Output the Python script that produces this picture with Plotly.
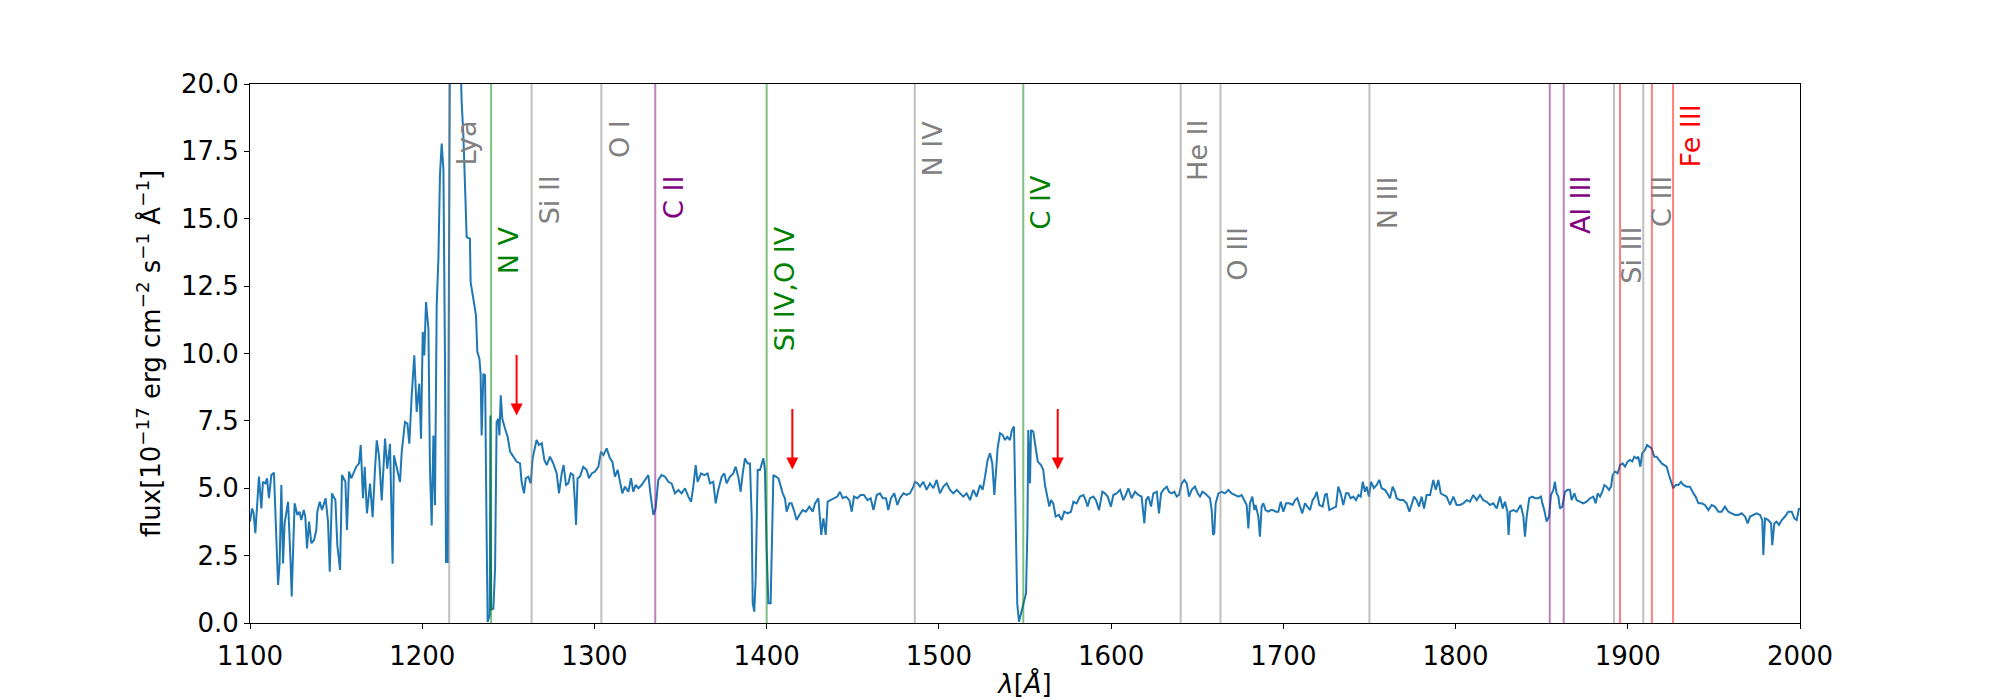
import plotly.graph_objects as go

# ---------------- data ----------------
wave = [
    1100.0, 1101.2, 1102.1, 1103.1, 1105.2, 1106.6, 1107.5, 1108.9, 1109.9, 1111.0,
    1112.4, 1113.9, 1116.3, 1117.2, 1118.2, 1119.2, 1120.1, 1122.1, 1123.6, 1124.2,
    1125.9, 1127.5, 1128.8, 1129.8, 1131.2, 1132.1, 1133.1, 1134.3, 1135.6, 1137.2,
    1138.5, 1139.1, 1140.5, 1141.8, 1143.9, 1145.3, 1146.3, 1147.6, 1149.6, 1150.7,
    1152.3, 1153.4, 1155.4, 1156.3, 1157.5, 1158.8, 1161.7, 1163.3, 1164.3, 1165.6,
    1166.6, 1167.9,
    1169.7, 1171.2, 1172.6, 1173.6, 1174.9, 1176.5, 1178.4, 1179.7, 1181.3, 1182.8,
    1183.6, 1185.2, 1187.1, 1188.1, 1190.0, 1191.4, 1192.5, 1193.9, 1195.4, 1196.8,
    1198.3, 1199.3, 1200.3, 1201.2, 1202.2, 1203.6, 1204.5, 1205.5, 1206.5, 1207.4,
    1208.4, 1209.4, 1210.3, 1211.3, 1212.3, 1213.2, 1213.8, 1214.8, 1215.4, 1216.2,
    1218.0, 1220.0, 1222.0, 1222.9, 1223.9, 1224.8, 1225.8, 1227.7, 1228.1, 1229.7,
    1231.2, 1232.0, 1233.2, 1233.9, 1234.5, 1235.5, 1236.5, 1237.4, 1238.0, 1239.2,
    1239.6, 1240.0, 1241.3, 1242.3, 1243.2, 1244.2, 1244.8, 1245.6, 1246.5, 1248.1,
    1249.6, 1251.0, 1252.9, 1254.8, 1256.8, 1257.7, 1259.1, 1260.1, 1261.6, 1263.0,
    1264.1, 1265.1, 1266.4, 1267.8, 1269.4, 1270.9, 1272.3, 1274.2, 1276.1, 1278.1,
    1279.4, 1281.0, 1282.1, 1283.5, 1284.8, 1286.2, 1287.7, 1288.7, 1289.3, 1290.2,
    1291.6, 1293.5, 1295.5, 1296.8, 1298.4, 1300.3, 1302.3, 1303.8, 1305.2, 1307.1,
    1309.0, 1310.4, 1311.9, 1313.5, 1314.8, 1316.2, 1317.7, 1319.7, 1321.2, 1322.6,
    1323.9, 1325.5, 1327.4, 1329.3, 1331.3, 1332.6, 1334.2, 1335.5, 1337.1, 1339.0,
    1341.0, 1342.9, 1344.8, 1346.8, 1348.7, 1350.6, 1352.6, 1354.5, 1356.1, 1357.4,
    1358.8, 1359.9, 1361.9, 1363.8, 1365.7, 1367.1, 1369.0, 1370.4, 1371.9, 1373.9,
    1375.4, 1376.8, 1378.7, 1380.6, 1382.0, 1383.5, 1384.9, 1386.1, 1387.4, 1388.9,
    1390.3, 1391.3, 1391.9, 1392.8, 1393.6, 1394.8,
    1396.1, 1398.1, 1399.0, 1400.0, 1401.0, 1402.3, 1403.1, 1403.9, 1405.4, 1406.8,
    1407.7, 1409.3, 1410.6, 1411.6, 1413.2, 1414.5, 1416.1, 1417.4, 1419.0, 1420.9,
    1422.8, 1424.8, 1426.7, 1428.1, 1430.0, 1431.0, 1431.7, 1432.9, 1434.3, 1435.4,
    1437.4, 1439.1, 1441.0, 1442.6, 1444.1, 1446.1, 1448.0, 1449.4, 1450.7, 1452.6,
    1454.6, 1456.5, 1458.5, 1460.4, 1462.0, 1463.9, 1465.8, 1467.4, 1469.3, 1470.6,
    1472.2, 1474.1, 1475.9, 1477.4, 1479.4, 1481.3, 1483.2, 1485.2, 1486.1, 1487.7,
    1489.0, 1491.0, 1492.9, 1494.8, 1496.8, 1498.7, 1500.6, 1502.6, 1504.5, 1506.5,
    1508.4, 1510.3, 1512.3, 1514.2, 1516.1, 1518.1, 1520.0, 1521.9, 1523.9, 1525.4,
    1526.8, 1528.3, 1529.7, 1531.0, 1532.2, 1533.0, 1534.1, 1535.5, 1537.0, 1538.4,
    1539.7, 1541.3, 1542.4, 1543.6, 1544.5, 1545.5, 1546.5, 1547.7, 1549.0, 1550.6,
    1551.4, 1551.9, 1552.9, 1553.5, 1554.8, 1556.2, 1557.4, 1559.3, 1560.6, 1561.6,
    1563.0, 1564.1, 1565.1, 1566.4, 1567.8, 1569.7, 1571.3, 1572.8, 1574.8, 1576.7,
    1578.1, 1580.0, 1581.9, 1583.9, 1585.2, 1586.4, 1587.7, 1589.7, 1591.2, 1593.0,
    1594.9, 1596.4, 1598.0, 1599.9, 1601.3, 1603.2, 1605.2, 1607.1, 1608.5, 1610.0,
    1611.9, 1613.9, 1615.8, 1617.7, 1619.3, 1620.3, 1621.6, 1623.2, 1624.5, 1626.5,
    1627.8, 1629.0, 1630.3, 1632.3, 1633.6, 1635.2, 1636.7, 1638.1, 1639.4, 1641.0,
    1642.5, 1643.9, 1645.2, 1646.8, 1648.7, 1650.3, 1651.6, 1653.0, 1654.5, 1656.1,
    1657.4, 1658.4, 1659.2, 1659.9, 1660.7, 1662.3, 1664.2, 1666.1, 1668.1, 1670.0,
    1671.9, 1673.9, 1675.8, 1677.4, 1678.7, 1679.7, 1680.6, 1682.0, 1683.2, 1683.9,
    1685.5, 1686.4, 1687.4, 1688.4, 1689.7, 1691.3, 1692.8, 1693.8, 1695.7, 1697.1,
    1698.5, 1700.0, 1701.6, 1703.5, 1705.4, 1706.8, 1708.1, 1709.7, 1711.0, 1712.6,
    1713.9, 1715.5, 1717.0, 1718.4, 1719.4, 1720.9, 1722.8, 1724.2, 1725.2, 1726.7,
    1728.6, 1730.6, 1731.9, 1733.3, 1734.8, 1736.4, 1737.7, 1739.1, 1740.6, 1742.2,
    1743.6, 1744.9, 1746.1, 1747.4, 1748.4, 1749.7, 1750.9, 1752.6, 1754.2, 1755.7,
    1757.1, 1759.0, 1760.4, 1761.9, 1763.5, 1764.8, 1765.8, 1767.7, 1769.7, 1771.6,
    1773.2, 1774.5, 1775.9, 1777.4, 1778.8, 1780.3, 1781.7, 1783.2, 1785.2, 1787.1,
    1788.5, 1790.0, 1791.4, 1792.9, 1794.8, 1796.8, 1798.7, 1800.6, 1802.6, 1804.5,
    1806.5, 1808.4, 1810.3, 1812.3, 1814.2, 1816.1, 1818.1, 1820.0, 1821.9, 1823.9,
    1825.8, 1827.4, 1828.7, 1830.1, 1830.8, 1831.6, 1833.6, 1835.5, 1837.8, 1839.4,
    1840.3, 1841.3, 1842.8, 1844.6, 1846.1, 1848.1, 1849.6, 1850.4, 1851.5, 1852.9,
    1854.3, 1855.4, 1856.8, 1857.7, 1858.7, 1859.7, 1860.6, 1862.0, 1863.5, 1865.1,
    1866.4, 1867.4, 1869.0, 1870.3, 1872.3, 1874.2, 1876.1, 1878.1, 1880.0, 1881.4,
    1882.5, 1883.9, 1885.2, 1886.4, 1887.7, 1889.1, 1890.3, 1891.2, 1892.6, 1894.1,
    1895.5, 1897.0, 1898.4, 1899.9, 1901.3, 1902.6, 1903.8, 1905.2, 1906.1, 1907.3,
    1908.4, 1910.0, 1911.2, 1912.5, 1913.9, 1915.4, 1916.8, 1918.1, 1919.7, 1921.2,
    1922.6, 1923.9, 1925.1, 1926.4, 1927.8, 1929.4, 1930.9, 1932.3, 1934.2, 1936.1,
    1938.1, 1939.4, 1941.0, 1942.9, 1944.8, 1946.8, 1948.7, 1950.6, 1952.6, 1954.5,
    1956.4, 1958.4, 1960.3, 1962.3, 1964.2, 1966.1, 1968.1, 1969.6, 1971.0, 1972.9,
    1974.8, 1976.8, 1978.1, 1978.7, 1979.7, 1981.6, 1983.2, 1983.9, 1985.1, 1986.4,
    1987.8, 1989.4, 1991.3, 1993.2, 1995.2, 1996.7, 1998.1, 1999.4, 2000.0,
]

flux = [
    3.76, 4.25, 4.07, 3.33, 5.43, 4.25, 5.24, 5.18, 5.37, 4.63,
    5.49, 5.58, 1.41, 2.21, 5.12, 2.21, 3.70, 4.50, 2.21, 0.98,
    4.44, 4.01, 4.13, 3.82, 4.19, 3.95, 2.77, 3.76, 2.96, 3.08,
    3.45, 4.13, 4.50, 4.19, 4.63, 3.76, 1.90, 4.81, 4.56, 2.89,
    1.97, 5.49, 5.24, 3.45, 5.62, 5.37, 5.80, 5.92, 6.60, 4.63,
    5.80, 4.07,
    5.17, 3.93, 5.73, 6.78, 6.22, 4.55, 6.84, 5.73, 6.65, 2.20,
    6.22, 5.73, 5.23, 6.35, 7.46, 7.40, 6.65, 8.45, 9.93, 7.83,
    8.88, 6.84, 10.80, 9.93, 11.91, 10.92, 5.73, 3.62, 6.96, 4.37,
    11.79, 13.52, 16.61, 17.79, 16.86, 9.93, 2.26, 2.26, 9.44, 23.0,
    26.0, 25.0, 21.5, 19.33, 18.10, 16.24, 14.32, 14.26, 12.65, 12.03,
    11.42, 10.06, 9.81, 9.25, 6.96, 9.25, 9.19, 3.25, 0.04, 0.30,
    7.70, 0.50, 0.53, 2.02, 7.46, 7.58, 6.96, 8.45, 7.58, 7.21,
    6.91, 6.36, 6.17, 5.99, 5.92, 5.24, 4.81, 5.37, 5.43, 5.18,
    6.11, 6.42, 6.79, 6.60, 6.67, 6.05, 5.86, 6.17, 5.92, 5.55,
    4.81, 5.55, 5.86, 5.12, 5.18, 5.55, 5.49, 4.44, 3.64, 5.37,
    5.43, 5.80, 5.68, 5.37, 5.55, 5.62, 5.80, 6.36, 6.23, 6.48,
    6.11, 5.99, 5.43, 5.68, 5.18, 4.81, 5.06, 4.87, 5.37, 4.87,
    5.12, 5.00, 5.12, 5.31, 5.49, 4.75, 4.01, 4.25, 5.31, 5.49,
    5.43, 5.24, 5.18, 4.81, 4.94, 4.81, 5.00, 4.69, 4.50, 5.06,
    5.86, 5.24, 5.55, 5.49, 5.55, 5.18, 5.24, 4.44, 4.94, 5.43,
    5.55, 5.18, 5.43, 5.55, 5.80, 5.43, 4.87, 5.55, 6.11, 5.92,
    5.92, 3.95, 0.73, 0.42, 1.60, 5.68,
    5.68, 6.11, 5.68, 2.71, 0.73, 0.73, 2.96, 5.49, 5.43, 5.37,
    5.18, 4.81, 4.63, 4.13, 4.44, 4.44, 4.13, 3.82, 4.01, 4.19,
    4.13, 4.32, 4.13, 4.44, 4.63, 3.95, 3.27, 3.88, 3.27, 4.50,
    4.56, 4.63, 4.69, 4.87, 4.63, 4.69, 4.56, 4.13, 4.69, 4.63,
    4.75, 4.75, 4.56, 4.63, 4.19, 4.75, 4.81, 4.63, 4.63, 4.19,
    4.63, 4.81, 4.38, 4.63, 4.81, 4.75, 4.81, 5.06, 5.24, 5.18,
    5.06, 5.24, 4.94, 5.18, 5.00, 5.31, 4.81, 5.06, 5.18, 4.94,
    4.81, 4.94, 4.81, 4.69, 4.81, 4.56, 4.94, 4.69, 5.12, 4.94,
    5.43, 6.05, 6.30, 5.92, 4.75, 5.55, 6.48, 7.04, 6.98, 6.79,
    6.91, 6.79, 7.16, 7.29, 3.45, 0.73, 0.05, 0.36, 0.79, 1.10,
    3.45, 7.16, 5.18, 7.16, 7.10, 6.54, 5.99, 5.86, 5.68, 5.12,
    4.69, 4.32, 4.56, 4.44, 3.95, 4.01, 3.82, 4.13, 4.07, 4.13,
    4.50, 4.44, 4.69, 4.75, 4.56, 4.32, 4.63, 4.69, 4.56, 4.19,
    4.87, 4.81, 4.69, 4.32, 4.75, 4.81, 4.94, 4.56, 4.75, 5.00,
    4.63, 4.87, 4.75, 4.69, 3.70, 4.56, 4.69, 4.32, 4.81, 4.87,
    4.07, 4.81, 4.94, 5.06, 4.87, 4.81, 4.87, 4.69, 4.75, 5.18,
    5.31, 5.18, 4.69, 4.94, 5.06, 4.81, 4.69, 4.87, 4.81, 4.69,
    4.63, 4.19, 3.27, 3.33, 4.44, 4.81, 4.87, 4.81, 4.94, 4.81,
    4.75, 4.69, 4.75, 4.56, 4.38, 3.51, 4.44, 4.69, 4.19, 4.38,
    3.95, 3.20, 4.32, 4.44, 4.19, 4.13, 4.19, 4.19, 4.13, 4.13,
    4.50, 4.13, 4.44, 4.44, 4.38, 4.56, 4.63, 4.32, 4.07, 4.44,
    4.32, 4.19, 4.56, 4.69, 4.87, 4.38, 4.32, 4.75, 4.81, 4.19,
    4.25, 4.32, 5.06, 4.81, 4.38, 4.81, 4.81, 4.63, 4.69, 4.56,
    4.75, 4.69, 5.24, 4.87, 5.06, 4.69, 5.24, 5.00, 5.12, 5.31,
    5.00, 4.94, 4.81, 4.63, 5.06, 4.87, 4.63, 4.56, 4.56, 4.44,
    4.13, 4.44, 4.69, 4.56, 4.32, 4.69, 4.25, 4.75, 4.75, 5.31,
    4.94, 5.31, 4.81, 4.75, 4.69, 4.38, 4.69, 4.38, 4.38, 4.44,
    4.56, 4.50, 4.75, 4.56, 4.75, 4.56, 4.50, 4.38, 4.44, 4.25,
    4.69, 4.25, 4.50, 4.13, 3.27, 4.13, 4.19, 4.13, 4.38, 3.95,
    3.20, 3.95, 4.63, 4.69, 4.63, 4.63, 4.69, 4.44, 4.19, 3.76,
    3.95, 4.75, 4.94, 5.24, 4.81, 4.69, 4.25, 4.32, 4.87, 4.94,
    4.94, 4.56, 4.81, 4.56, 4.50, 4.44, 4.50, 4.63, 4.69, 4.44,
    4.81, 4.69, 4.87, 5.12, 5.06, 4.94, 5.06, 5.49, 5.62, 5.55,
    5.86, 5.92, 5.80, 5.99, 6.05, 5.99, 6.17, 6.11, 6.17, 5.80,
    6.30, 6.42, 6.60, 6.54, 6.48, 6.17, 6.17, 6.05, 5.92, 5.86,
    5.80, 5.49, 5.24, 5.00, 5.12, 5.12, 5.24, 5.12, 5.06, 5.06,
    4.81, 4.69, 4.44, 4.44, 4.38, 4.19, 4.38, 4.32, 4.13, 4.13,
    4.32, 4.13, 4.07, 4.01, 4.01, 4.07, 3.95, 3.70, 3.95, 4.01,
    4.07, 4.01, 3.82, 2.52, 3.88, 3.82, 3.70, 2.89, 3.70, 3.76,
    3.64, 3.82, 3.95, 4.13, 4.13, 3.88, 3.82, 4.25, 4.20,
]

# emission / absorption line markers
line_wave = [1215.67, 1240.0, 1263.5, 1304.0, 1335.3, 1400.0, 1486.0, 1549.0,
             1640.4, 1663.5, 1750.0, 1854.7, 1862.8, 1892.0, 1895.5, 1909.0,
             1914.0, 1926.3]
line_kind = ["gray", "green", "gray", "gray", "purple", "green", "gray", "green",
             "gray", "gray", "gray", "purple", "purple", "gray", "red", "gray",
             "red", "red"]

label_text = ["Lya", "N V", "Si II", "O I", "C II", "Si IV,O IV", "N IV", "C IV",
              "He II", "O III", "N III", "Al III", "Si III", "C III", "Fe III"]
label_wave = [1215.67, 1240.0, 1263.5, 1304.0, 1335.3, 1400.0, 1486.0, 1549.0,
              1640.4, 1663.5, 1750.0, 1862.8, 1892.0, 1909.0, 1926.3]
label_top = [18.73, 14.78, 16.67, 18.73, 16.67, 14.78, 18.73, 16.67,
             18.73, 14.78, 16.67, 16.67, 14.78, 16.67, 19.32]
label_kind = ["gray", "green", "gray", "gray", "purple", "green", "gray", "green",
              "gray", "gray", "gray", "purple", "gray", "gray", "red"]

arrow_wave = [1254.8, 1414.9, 1569.0]
arrow_tail = [10.0, 8.0, 8.0]
arrow_tip = [7.7, 5.7, 5.7]

x_ticks = [1100, 1200, 1300, 1400, 1500, 1600, 1700, 1800, 1900, 2000]
y_ticks = [0.0, 2.5, 5.0, 7.5, 10.0, 12.5, 15.0, 17.5, 20.0]

# ---------------- styles ----------------
line_rgba = {"gray": "rgba(128,128,128,0.5)", "green": "rgba(0,128,0,0.5)",
             "purple": "rgba(128,0,128,0.5)", "red": "rgba(255,0,0,0.5)"}
text_rgb = {"gray": "#808080", "green": "#008000", "purple": "#800080", "red": "#ff0000"}
FONT = "DejaVu Sans"

fig = go.Figure()
fig.add_trace(go.Scatter(x=wave, y=flux, mode="lines",
                         line=dict(color="#1f77b4", width=2), showlegend=False,
                         hoverinfo="skip"))

shapes = []
for w, k in zip(line_wave, line_kind):
    shapes.append(dict(type="line", xref="x", yref="paper", x0=w, x1=w, y0=0, y1=1,
                       line=dict(color=line_rgba[k], width=2), layer="above"))

annotations = []
for t, w, yt, k in zip(label_text, label_wave, label_top, label_kind):
    annotations.append(dict(x=w, y=yt, xref="x", yref="y", text=t, showarrow=False,
                            textangle=-90, xanchor="left", yanchor="top", xshift=0,
                            font=dict(family=FONT, size=27, color=text_rgb[k])))
for w, a, b in zip(arrow_wave, arrow_tail, arrow_tip):
    annotations.append(dict(x=w, y=b, ax=w, ay=a, xref="x", yref="y", axref="x", ayref="y",
                            text="", showarrow=True, arrowhead=2, arrowsize=1.2,
                            arrowwidth=2, arrowcolor="red", standoff=0))

fig.update_layout(
    width=2000, height=700,
    margin=dict(l=242, r=208, t=76, b=85),
    paper_bgcolor="white", plot_bgcolor="white",
    font=dict(family=FONT, size=26, color="black"),
    shapes=shapes, annotations=annotations,
    xaxis=dict(range=[1100, 2000], tickvals=x_ticks, ticks="outside", ticklen=5,
               tickwidth=1, tickcolor="black", showline=True, linecolor="black",
               linewidth=1, mirror=True, showgrid=False, zeroline=False,
               ticklabelstandoff=5,
               tickfont=dict(family=FONT, size=26),
               title=dict(text="<i>λ</i>[<i>Å</i>]", font=dict(family=FONT, size=26),
                          standoff=4)),
    yaxis=dict(range=[0, 20], tickvals=y_ticks, tickformat=".1f", ticks="outside",
               ticklen=5, tickwidth=1, tickcolor="black", showline=True,
               linecolor="black", linewidth=1, mirror=True, showgrid=False,
               zeroline=False, tickfont=dict(family=FONT, size=26),
               title=dict(text="flux[10<sup>−17</sup> erg cm<sup>−2</sup> s<sup>−1</sup> Å<sup>−1</sup>]",
                          font=dict(family=FONT, size=26), standoff=12)),
)

fig.write_html("out.html")
